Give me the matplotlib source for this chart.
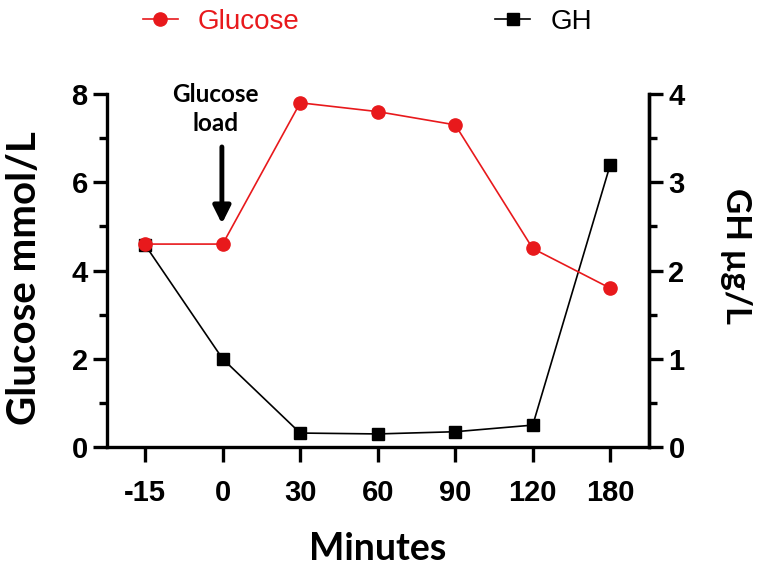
import matplotlib
matplotlib.use('Agg')
import matplotlib.pyplot as plt
import numpy as np

minutes = ['-15', '0', '30', '60', '90', '120', '180']
glucose = [4.6, 4.6, 7.8, 7.6, 7.3, 4.5, 3.6]
gh = [2.29, 1.0, 0.16, 0.15, 0.175, 0.25, 3.2]

RED = '#e8191c'
TICKFONT = 'Liberation Sans'
LABFONT = 'Lato'
LW = 2.4

fig = plt.figure(figsize=(7.6, 5.8), dpi=100)
ax = fig.add_axes([0.141, 0.229, 0.713, 0.609])
ax2 = ax.twinx()

x = np.arange(len(minutes))
l1, = ax.plot(x, glucose, color=RED, lw=1.2, marker='o', ms=9.5, zorder=3)
l2, = ax2.plot(x, gh, color='k', lw=1.2, marker='s', ms=9, zorder=2)
ax.set_zorder(ax2.get_zorder() + 1)
ax.patch.set_visible(False)

ax.set_xlim(-0.49, 6.5)
ax.set_ylim(0, 8)
ax2.set_ylim(0, 4)
ax.set_xticks(x)
ax.set_xticklabels(minutes)
ax.set_yticks([0, 2, 4, 6, 8])
ax.set_yticks([1, 3, 5, 7], minor=True)
ax2.set_yticks([0, 1, 2, 3, 4])
ax2.set_yticks([0.5, 1.5, 2.5, 3.5], minor=True)

for a in (ax, ax2):
    a.spines['top'].set_visible(False)
    for s in a.spines.values():
        s.set_linewidth(LW)
    a.tick_params(which='major', width=LW, length=10, labelsize=21, pad=4)
    a.tick_params(which='minor', width=LW, length=6)
    for lab in a.get_xticklabels() + a.get_yticklabels():
        lab.set_fontfamily(TICKFONT)
        lab.set_fontweight('bold')
ax.tick_params(axis='x', length=11, pad=12)
ax2.spines['left'].set_visible(False)
ax2.spines['bottom'].set_visible(False)

ax.set_ylabel('Glucose mmol/L', fontfamily=LABFONT, fontweight='bold', fontsize=29,
              ha='center', va='center')
ax.yaxis.set_label_coords(-0.153, 0.48)
ax2.set_ylabel('GH µg/L', fontfamily=LABFONT, fontweight='bold', fontsize=25,
               rotation=270, ha='center', va='center')
ax2.yaxis.set_label_coords(1.16, 0.54)
ax.set_xlabel('Minutes', fontfamily=LABFONT, fontweight='bold', fontsize=27, labelpad=18)

# glucose load annotation
ax.annotate('', xy=(0.99, 5.06), xytext=(0.99, 6.8),
            arrowprops=dict(arrowstyle='-|>', color='k', lw=3.5, mutation_scale=26,
                            shrinkA=0, shrinkB=0))
ax.text(0.91, 7.66, 'Glucose\nload', ha='center', va='center', fontfamily=LABFONT,
        fontweight='bold', fontsize=17.5, linespacing=1.3)

leg = fig.legend([l1, l2], ['Glucose', 'GH'], loc='center left', ncol=2,
                 bbox_to_anchor=(0.188, 0.962), frameon=False, borderpad=0,
                 borderaxespad=0, handlelength=1.26, handletextpad=0.72,
                 columnspacing=7.05, prop={'family': TICKFONT, 'size': 20})
leg.get_texts()[0].set_color(RED)

fig.savefig('out.png', dpi=100)
